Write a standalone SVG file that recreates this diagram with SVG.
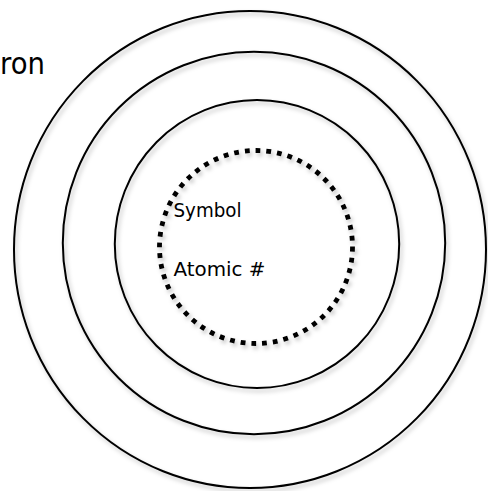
<svg xmlns="http://www.w3.org/2000/svg" width="488" height="491" viewBox="0 0 488 491">
  <style>
    .shell { fill: none; stroke: #000; stroke-width: 2; filter: url(#sh); }
    .nucleus { fill: none; stroke: #000; stroke-width: 4.8; stroke-dasharray: 4.8 6; filter: url(#sh); }
    .lbl { font-family: "DejaVu Sans", "Liberation Sans", sans-serif; fill: #000; }
  </style>
  <defs>
    <filter id="sh" x="-10%" y="-10%" width="120%" height="120%">
      <feDropShadow dx="2" dy="3" stdDeviation="2" flood-color="#000" flood-opacity="0.25"/>
    </filter>
  </defs>
  <rect width="488" height="491" fill="#fff"/>
  <g id="shell-outer">
    <ellipse class="shell" cx="250" cy="249.5" rx="236" ry="238.5"/>
  </g>
  <g id="shell-middle">
    <circle class="shell" cx="254" cy="243" r="191.2"/>
  </g>
  <g id="shell-inner">
    <ellipse class="shell" cx="257" cy="244" rx="142.2" ry="144"/>
  </g>
  <g id="nucleus">
    <circle class="nucleus" cx="256" cy="247" r="96.5"/>
  </g>
  <g id="label-electron">
    <text class="lbl" x="0" y="74" font-size="31" textLength="45" lengthAdjust="spacingAndGlyphs">ron</text>
  </g>
  <g id="label-symbol">
    <text class="lbl" x="173.5" y="217" font-size="19.5" textLength="68" lengthAdjust="spacingAndGlyphs">Symbol</text>
  </g>
  <g id="label-atomic">
    <text class="lbl" x="173.5" y="276" font-size="19.5" textLength="92" lengthAdjust="spacingAndGlyphs">Atomic #</text>
  </g>
  <g id="connectors"></g>
</svg>
